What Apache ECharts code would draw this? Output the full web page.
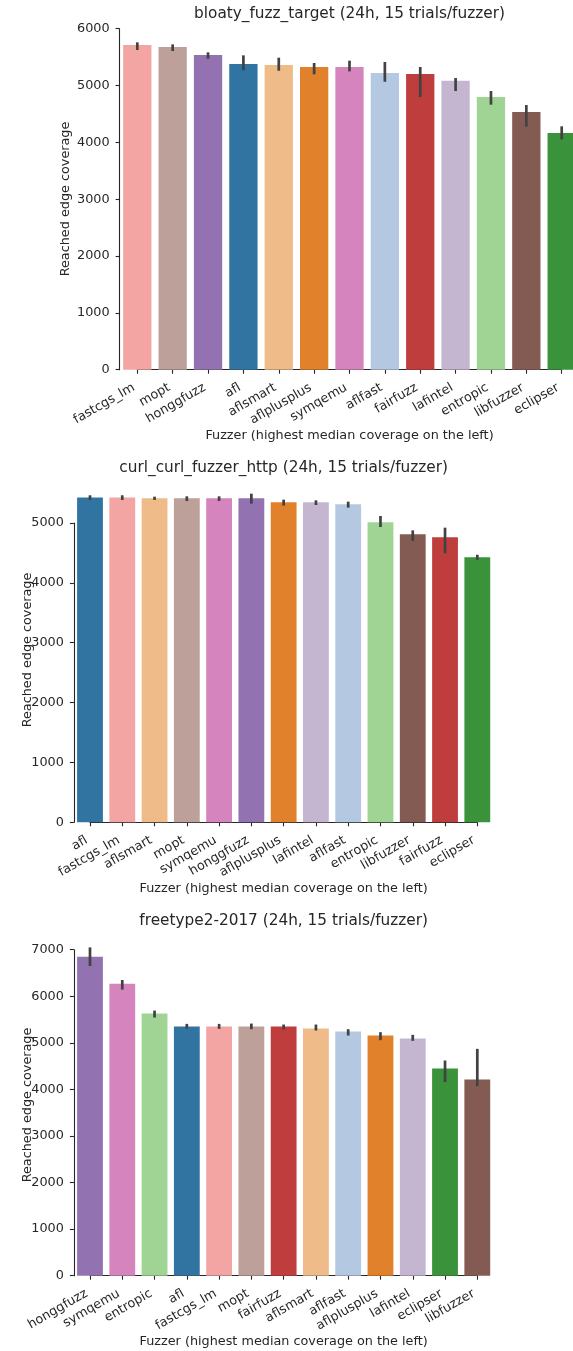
<!DOCTYPE html>
<html>
<head>
<meta charset="utf-8">
<script src="https://cdn.jsdelivr.net/npm/echarts@6/dist/echarts.min.js"></script>
<style>
html,body{margin:0;padding:0;background:#fff;}
#c{width:573px;height:1351px;}
</style>
</head>
<body>
<div id="c"></div>
<script>
// ---- data ----
const titles = [
  'bloaty_fuzz_target (24h, 15 trials/fuzzer)',
  'curl_curl_fuzzer_http (24h, 15 trials/fuzzer)',
  'freetype2-2017 (24h, 15 trials/fuzzer)'
];
const xName = 'Fuzzer (highest median coverage on the left)';
const yName = 'Reached edge coverage';

const cats1 = ['fastcgs_lm','mopt','honggfuzz','afl','aflsmart','aflplusplus','symqemu','aflfast','fairfuzz','lafintel','entropic','libfuzzer','eclipser'];
const vals1 = [5713,5677,5537,5378,5361,5326,5326,5220,5202,5085,4798,4534,4164];
const lo1   = [5625,5607,5472,5267,5261,5197,5249,5067,4798,4903,4663,4276,4053];
const hi1   = [5760,5724,5584,5531,5490,5396,5437,5414,5326,5132,4903,4657,4282];

const cats2 = ['afl','fastcgs_lm','aflsmart','mopt','symqemu','honggfuzz','aflplusplus','lafintel','aflfast','entropic','libfuzzer','fairfuzz','eclipser'];
const vals2 = [5424,5424,5412,5412,5412,5412,5346,5346,5312,5011,4810,4760,4426];
const lo2   = [5385,5385,5385,5368,5368,5323,5290,5301,5256,4933,4699,4493,4387];
const hi2   = [5463,5463,5440,5446,5446,5490,5390,5379,5357,5117,4877,4922,4470];

const cats3 = ['honggfuzz','symqemu','entropic','afl','fastcgs_lm','mopt','fairfuzz','aflsmart','aflfast','aflplusplus','lafintel','eclipser','libfuzzer'];
const vals3 = [6850,6271,5629,5350,5350,5350,5350,5307,5243,5157,5093,4450,4214];
const lo3   = [6650,6143,5543,5307,5300,5293,5286,5264,5157,5057,5043,4157,4071];
const hi3   = [7050,6350,5693,5407,5407,5414,5393,5393,5293,5229,5171,4621,4871];

const yMax = [6000, 5000, 7000];
const yInterval = 1000;

const colors = {
  fastcgs_lm:'#f2a5a3', mopt:'#bea09a', honggfuzz:'#9372b2', afl:'#3274a1',
  aflsmart:'#eebb89', aflplusplus:'#e1812c', symqemu:'#d684bd', aflfast:'#b5c8e1',
  fairfuzz:'#c03d3e', lafintel:'#c4b5d0', entropic:'#9fd494', libfuzzer:'#845b53',
  eclipser:'#3a923a'
};

// ---- layout ----
const TXT = '#262626';
const FONT = 'DejaVu Sans';
const FS = 12.8;
const grids = [
  {left:137.3, width:424.4, top:28.7, height:341.0},
  {left:90.0, width:387.3, top:523.0, height:299.3},
  {left:90.0, width:387.3, top:949.7, height:326.0}
];
const yOffsets = [17.7, 16.1, 16.1];
const titleY = [14, 468, 921];
const yLabelX = [66, 27.5, 27.5];
const yLabelY = [199, 650, 1105];

const sets = [
  {cats:cats1, vals:vals1, lo:lo1, hi:hi1},
  {cats:cats2, vals:vals2, lo:lo2, hi:hi2},
  {cats:cats3, vals:vals3, lo:lo3, hi:hi3}
];

const option = {
  animation:false,
  backgroundColor:'#fff',
  textStyle:{fontFamily:FONT, color:TXT},
  grid:[], xAxis:[], yAxis:[], series:[], graphic:[]
};

sets.forEach((s, k) => {
  const g = grids[k];
  option.grid.push({left:g.left, width:g.width, top:g.top, height:g.height, containLabel:false});
  option.xAxis.push({
    type:'category', gridIndex:k, data:s.cats, boundaryGap:false,
    name:xName, nameLocation:'middle', nameGap:58,
    nameTextStyle:{fontFamily:FONT, fontSize:FS, color:TXT},
    axisLine:{show:true, lineStyle:{color:TXT, width:1.1}},
    axisTick:{show:true, length:4, inside:false, lineStyle:{color:TXT, width:1.1}},
    axisLabel:{interval:0, rotate:30, margin:15, padding:[0,4,0,0], fontFamily:FONT, fontSize:FS, color:TXT},
    splitLine:{show:false}
  });
  option.yAxis.push({
    type:'value', gridIndex:k, min:0, max:yMax[k], interval:yInterval, offset:yOffsets[k],
    axisLine:{show:true, lineStyle:{color:TXT, width:1.1}},
    axisTick:{show:true, length:4, lineStyle:{color:TXT, width:1.1}},
    axisLabel:{margin:10, fontFamily:FONT, fontSize:FS, color:TXT, formatter:v => String(v)},
    splitLine:{show:false}
  });
  option.series.push({
    type:'bar', xAxisIndex:k, yAxisIndex:k, barWidth:'80%', clip:false,
    data:s.vals.map((v, i) => ({value:v, itemStyle:{color:colors[s.cats[i]]}}))
  });
  option.series.push({
    type:'custom', xAxisIndex:k, yAxisIndex:k, clip:false, z:5,
    data:s.lo.map((l, i) => [i, l, s.hi[i]]),
    renderItem:function(params, api){
      const x = api.value(0);
      const p1 = api.coord([x, api.value(1)]);
      const p2 = api.coord([x, api.value(2)]);
      return {type:'line', shape:{x1:p1[0], y1:p1[1], x2:p2[0], y2:p2[1]},
              style:{stroke:'#424242', lineWidth:2.7}};
    }
  });
  option.graphic.push({
    type:'text', x:g.left + g.width/2, y:titleY[k],
    style:{text:titles[k], font:'15.3px "DejaVu Sans"', fill:TXT, textAlign:'center', textVerticalAlign:'middle'}
  });
  option.graphic.push({
    type:'text', x:yLabelX[k], y:yLabelY[k], rotation:Math.PI/2,
    style:{text:yName, font:FS + 'px "DejaVu Sans"', fill:TXT, textAlign:'center', textVerticalAlign:'middle'}
  });
});

const chart = echarts.init(document.getElementById('c'), null, {renderer:'canvas'});
chart.setOption(option);
</script>
</body>
</html>
